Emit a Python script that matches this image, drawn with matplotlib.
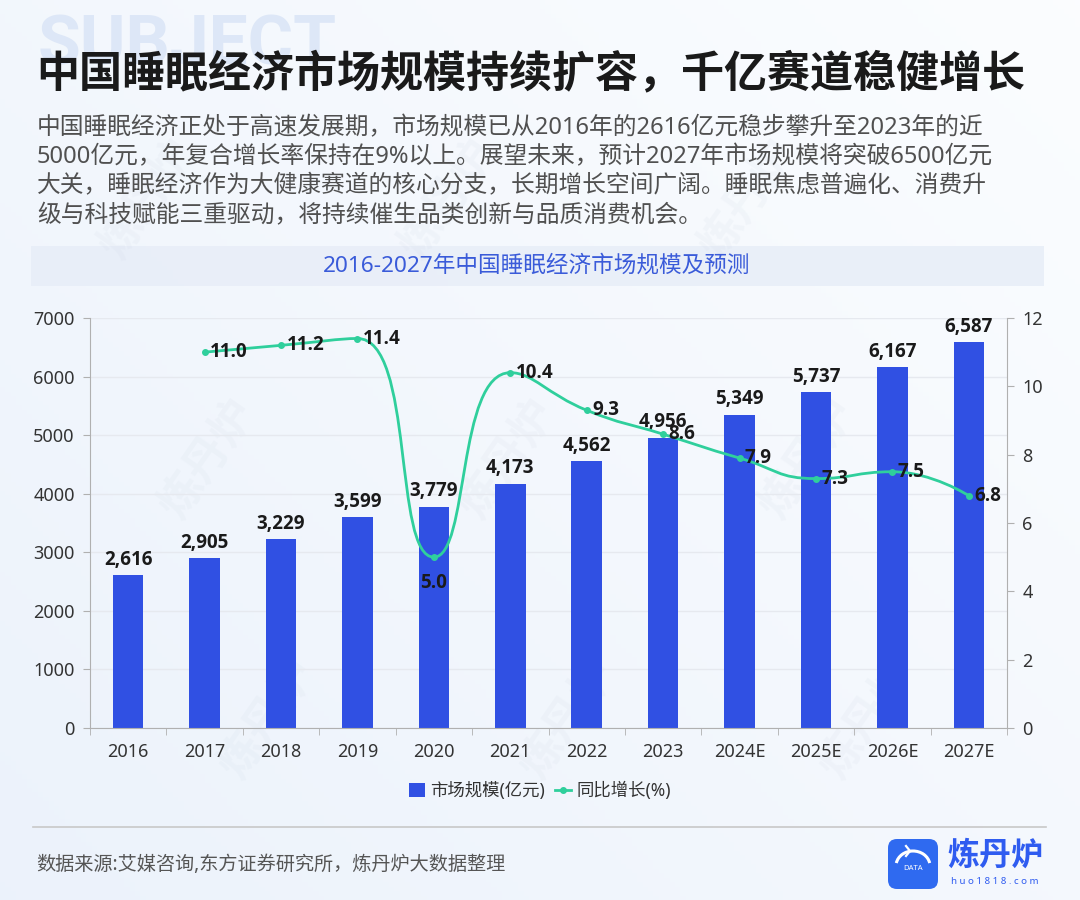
import numpy as np
import matplotlib
matplotlib.use("Agg")
import matplotlib.pyplot as plt
from matplotlib.path import Path
from matplotlib.patches import PathPatch, Rectangle, FancyBboxPatch, Patch, Arc
from matplotlib.lines import Line2D

plt.rcParams['font.family'] = ['Noto Sans', 'Noto Sans CJK SC', 'DejaVu Sans']
BOLDNUM = ['Open Sans', 'Noto Sans CJK SC', 'DejaVu Sans']

# data
years = ['2016', '2017', '2018', '2019', '2020', '2021', '2022', '2023',
         '2024E', '2025E', '2026E', '2027E']
market = [2616, 2905, 3229, 3599, 3779, 4173, 4562, 4956, 5349, 5737, 6167, 6587]
growth_years = years[1:]
growth = [11.0, 11.2, 11.4, 5.0, 10.4, 9.3, 8.6, 7.9, 7.3, 7.5, 6.8]

title = '中国睡眠经济市场规模持续扩容，千亿赛道稳健增长'
intro = ['中国睡眠经济正处于高速发展期，市场规模已从2016年的2616亿元稳步攀升至2023年的近',
         '5000亿元，年复合增长率保持在9%以上。展望未来，预计2027年市场规模将突破6500亿元',
         '大关，睡眠经济作为大健康赛道的核心分支，长期增长空间广阔。睡眠焦虑普遍化、消费升',
         '级与科技赋能三重驱动，将持续催生品类创新与品质消费机会。']
chart_title = '2016-2027年中国睡眠经济市场规模及预测'
source = '数据来源:艾媒咨询,东方证券研究所，炼丹炉大数据整理'

BLUE = '#3050e3'
TEAL = '#2fcf9c'
W, H = 1080, 900

fig = plt.figure(figsize=(10.8, 9), dpi=100)

# background gradient
bg = fig.add_axes([0, 0, 1, 1])
bg.set_axis_off()
gx = np.linspace(0, 1, 200)
gy = np.linspace(0, 1, 200)
GX, GY = np.meshgrid(gx, gy)
c0 = np.array([0.925, 0.950, 0.985])
c1 = np.array([0.985, 0.992, 1.0])
t = np.clip(0.55 * GX + 0.45 * GY, 0, 1)[..., None]
img = c0 * (1 - t) + c1 * t
bg.imshow(img, extent=[0, W, 0, H], origin='upper', aspect='auto')
bg.set_xlim(0, W)
bg.set_ylim(H, 0)

# faint watermarks
for wx in range(150, W - 60, 300):
    for wy in range(200, H - 120, 260):
        bg.text(wx + (wy // 260) * 60, wy, '炼丹炉', fontsize=32, color='#c9d3e2',
                alpha=0.12, rotation=55, ha='center', va='center', fontweight='bold')
bg.text(38, 46, 'SUBJECT', fontsize=50, fontweight='bold', color='#dde7f7',
        ha='left', va='center', family=['Roboto', 'DejaVu Sans'])

# title and intro
bg.text(36, 75, title, fontsize=31, fontweight='bold', color='#1a1a1a',
        ha='left', va='center')
for i, line in enumerate(intro):
    bg.text(37, 128 + i * 29.3, line, fontsize=17.1, color='#505050',
            ha='left', va='center')

# chart title band
bg.add_patch(Rectangle((31, 246), 1013, 40, facecolor='#e8eef8', edgecolor='none', alpha=0.9))
bg.text(537, 266, chart_title, fontsize=16.3, color='#3a5bd9', ha='center', va='center')

# separator and source
bg.plot([33, 1046], [827, 827], color='#c8c8c8', lw=1.2)
bg.text(36, 865, source, fontsize=13.8, color='#555555', ha='left', va='center')

# logo
bg.add_patch(FancyBboxPatch((888, 839), 50, 50, boxstyle='round,pad=0,rounding_size=9',
                            facecolor='#2f6af0', edgecolor='none'))
bg.add_patch(Arc((913, 866), 34, 30, theta1=190, theta2=350, color='white', lw=2.2))
bg.text(913, 869, 'DATA', fontsize=5.5, color='white', ha='center', va='center',
        fontweight='bold')
bg.plot([906, 910, 906], [846, 851, 856], color='white', lw=1.6)
bg.text(995, 856, '炼丹炉', fontsize=23, fontweight='bold', color='#2f5cf0',
        ha='center', va='center')
bg.text(995, 882, 'h u o 1 8 1 8 . c o m', fontsize=7, color='#2f5cf0',
        ha='center', va='center')

# main chart
left, right, top, bottom = 90, 1007, 318, 728
ax = fig.add_axes([left / W, 1 - bottom / H, (right - left) / W, (bottom - top) / H])
ax.patch.set_alpha(0)
x = np.arange(len(years))
ax.bar(x, market, width=0.4, color=BLUE, zorder=2)
ax.set_xlim(-0.5, len(years) - 0.5)
ax.set_ylim(0, 7000)
ax.set_yticks(range(0, 7001, 1000))
ax.set_xticks(x)
ax.set_xticklabels(years)
ax.set_xticks(np.arange(-0.5, len(years), 1), minor=True)
ax.tick_params(axis='x', which='major', length=0, pad=11, labelsize=13, labelcolor='#333333')
ax.tick_params(axis='x', which='minor', length=5, color='#b0b0b0', direction='out')
ax.tick_params(axis='y', length=5, color='#b0b0b0', labelsize=13, labelcolor='#333333', pad=6)
ax.grid(axis='y', color='#e6e9ef', lw=1, zorder=0)
for s in ['top', 'right']:
    ax.spines[s].set_visible(False)
for s in ['left', 'bottom']:
    ax.spines[s].set_color('#b0b0b0')
for xi, v in zip(x, market):
    ax.text(xi, v + 90, f'{v:,}', ha='center', va='bottom', fontsize=13.5,
            fontweight='bold', color='#1a1a1a', zorder=4, family=BOLDNUM)

ax2 = ax.twinx()
ax2.set_ylim(0, 12)
ax2.set_yticks(range(0, 13, 2))
ax2.tick_params(axis='y', length=5, color='#b0b0b0', labelsize=13, labelcolor='#333333', pad=6)
for s in ['top', 'left', 'bottom']:
    ax2.spines[s].set_visible(False)
ax2.spines['right'].set_color('#b0b0b0')

# smooth line (echarts-like bezier smoothing, computed in pixel units)
gx_ = x[1:].astype(float)
gy_ = np.array(growth, dtype=float)
sx = (right - left) / len(years)
sy = (bottom - top) / 12.0
px = gx_ * sx
py = gy_ * sy
n = len(px)
smooth = 0.5
verts = [(px[0], py[0])]
codes = [Path.MOVETO]
cp0 = (px[0], py[0])
for i in range(1, n):
    xx, yy = px[i], py[i]
    if i < n - 1:
        prx, pry = px[i - 1], py[i - 1]
        nx, ny = px[i + 1], py[i + 1]
        vx, vy = nx - prx, ny - pry
        lp = np.hypot(xx - prx, yy - pry)
        ln = np.hypot(nx - xx, ny - yy)
        r = ln / (ln + lp)
        ncx = xx + vx * smooth * r
        ncy = yy + vy * smooth * r
        ncx = min(max(ncx, min(nx, xx)), max(nx, xx))
        ncy = min(max(ncy, min(ny, yy)), max(ny, yy))
        vx, vy = ncx - xx, ncy - yy
        c1x = xx - vx * lp / ln
        c1y = yy - vy * lp / ln
        c1x = min(max(c1x, min(prx, xx)), max(prx, xx))
        c1y = min(max(c1y, min(pry, yy)), max(pry, yy))
        vx, vy = xx - c1x, yy - c1y
        ncx = xx + vx * ln / lp
        ncy = yy + vy * ln / lp
    else:
        c1x, c1y = xx, yy
        ncx, ncy = xx, yy
    verts += [cp0, (c1x, c1y), (xx, yy)]
    codes += [Path.CURVE4] * 3
    cp0 = (ncx, ncy)
verts = [(vx_ / sx, vy_ / sy) for vx_, vy_ in verts]
ax2.add_patch(PathPatch(Path(verts, codes), facecolor='none', edgecolor=TEAL, lw=2, zorder=3))
ax2.plot(gx_, gy_, 'o', color=TEAL, ms=4, zorder=4)
for xi, v in zip(gx_, gy_):
    if v == 5.0:
        ax2.text(xi, v - 0.45, f'{v:.1f}', ha='center', va='top', fontsize=13.5,
                 fontweight='bold', color='#1a1a1a', zorder=5, family=BOLDNUM)
    else:
        ax2.text(xi + 0.07, v, f'{v:.1f}', ha='left', va='center', fontsize=13.5,
                 fontweight='bold', color='#1a1a1a', zorder=5, family=BOLDNUM)

# legend
handles = [Patch(facecolor=BLUE, edgecolor='none'),
           Line2D([0], [0], color=TEAL, lw=2, marker='o', ms=4)]
fig.legend(handles, ['市场规模(亿元)', '同比增长(%)'], loc='center',
           bbox_to_anchor=(540 / W, 1 - 791 / H), ncol=2, frameon=False,
           fontsize=12.5, handlelength=0.9, handleheight=0.9, handletextpad=0.3,
           columnspacing=0.6, labelcolor='#333333')

fig.savefig('out.png', dpi=100)
